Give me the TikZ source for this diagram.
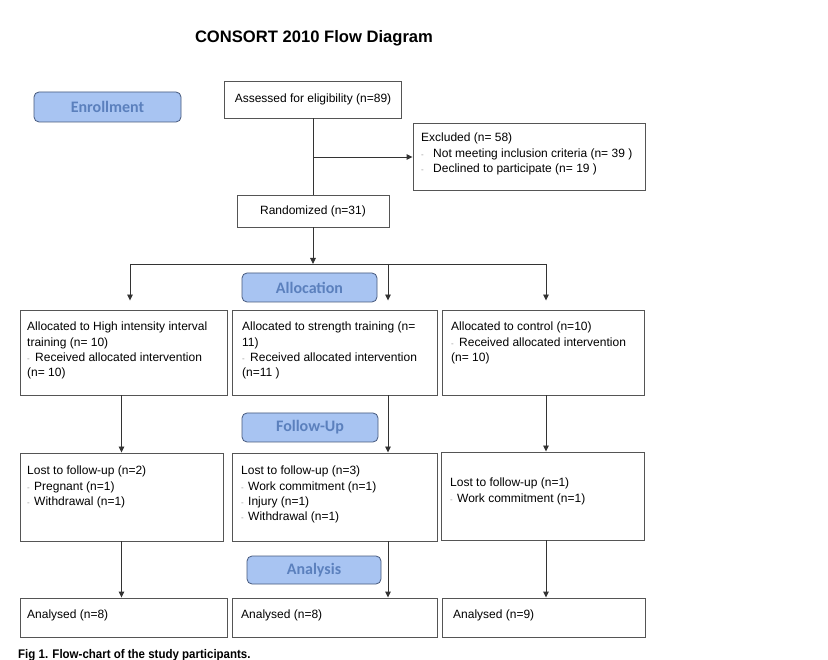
\documentclass[tikz,border=0pt]{standalone}
\usepackage{fontspec}
\setmainfont{Liberation Sans}
\newfontfamily\phasefont{Carlito}
\usetikzlibrary{arrows.meta}
\definecolor{lblfill}{HTML}{A8C4F2}
\definecolor{lbltext}{HTML}{5B80BD}
\definecolor{lbldraw}{HTML}{46597D}
\definecolor{linec}{HTML}{333333}
\definecolor{boxc}{HTML}{555555}
\newcommand{\dsh}[1]{\makebox[#1][l]{\textcolor{gray!80}{\fontsize{8}{8}\selectfont -}}}
\begin{document}
\begin{tikzpicture}[x=1pt,y=-1pt,
  box/.style={draw=boxc, line width=0.9pt, inner sep=0pt},
  txt/.style={anchor=north west, inner sep=0pt, align=left, font=\fontsize{12}{15.2}\selectfont},
  ctxt/.style={inner sep=0pt, align=center, font=\fontsize{12}{15.2}\selectfont},
  phase/.style={draw=lbldraw, fill=lblfill, rounded corners=5pt, line width=0.8pt, inner sep=0pt,
    font=\phasefont\bfseries\fontsize{16}{18}\selectfont, text=lbltext},
  conn/.style={draw=linec, line width=0.9pt},
  arr/.style={conn, -{Triangle[length=6pt,width=5.5pt]}}]
\fill[white] (0,0) rectangle (828,660);
\useasboundingbox (0,0) rectangle (828,660);

% title
\node[font=\bfseries\fontsize{16.6}{19}\selectfont] (title) at (314,38) {CONSORT 2010 Flow Diagram};

% phase labels
\node[phase, minimum width=147pt, minimum height=30pt] (enroll) at (107.5,107) {Enrollment};
\node[phase, minimum width=135pt, minimum height=29pt] (alloc) at (309.5,287.5) {Allocation};
\node[phase, minimum width=136pt, minimum height=29pt] (follow) at (310,427.5) {Follow-Up};
\node[phase, minimum width=134pt, minimum height=28pt] (analysis) at (314,570) {Analysis};

% boxes
\node[box, minimum width=177pt, minimum height=37pt] (assess) at (313,99.5) {};
\node[box, minimum width=232pt, minimum height=67pt] (excl) at (529,156.5) {};
\node[box, minimum width=152pt, minimum height=32pt] (rand) at (313,211) {};
\node[box, minimum width=207pt, minimum height=85pt] (allocA) at (123.5,352.5) {};
\node[box, minimum width=205pt, minimum height=85pt] (allocB) at (334.5,352.5) {};
\node[box, minimum width=202pt, minimum height=85pt] (allocC) at (543,352.5) {};
\node[box, minimum width=203pt, minimum height=88pt] (lostA) at (121.5,497) {};
\node[box, minimum width=205pt, minimum height=88pt] (lostB) at (334.5,497) {};
\node[box, minimum width=203pt, minimum height=88pt] (lostC) at (542.5,496) {};
\node[box, minimum width=207pt, minimum height=39pt] (anaA) at (123.5,617.5) {};
\node[box, minimum width=205pt, minimum height=39pt] (anaB) at (334.5,617.5) {};
\node[box, minimum width=203pt, minimum height=39pt] (anaC) at (543.5,617.5) {};

% texts
\node[ctxt] (tassess) at (assess) {Assessed for eligibility (n=89)};
\node[ctxt] (trand) at (rand) {Randomized (n=31)};
\node[txt] (texcl) at (421,133) {Excluded (n= 58)\\\dsh{12pt}Not meeting inclusion criteria (n= 39 )\\\dsh{12pt}Declined to participate (n= 19 )};
\node[txt] (tallocA) at (27,322) {Allocated to High intensity interval\\training (n= 10)\\\dsh{8pt}Received allocated intervention\\(n= 10)};
\node[txt] (tallocB) at (242,322) {Allocated to strength training (n=\\11)\\\dsh{8pt}Received allocated intervention\\(n=11 )};
\node[txt] (tallocC) at (451,322) {Allocated to control (n=10)\\\dsh{8pt}Received allocated intervention\\(n= 10)};
\node[txt] (tlostA) at (27,466) {Lost to follow-up (n=2)\\\dsh{7pt}Pregnant (n=1)\\\dsh{7pt}Withdrawal (n=1)};
\node[txt] (tlostB) at (241,466) {Lost to follow-up (n=3)\\\dsh{7pt}Work commitment (n=1)\\\dsh{7pt}Injury (n=1)\\\dsh{7pt}Withdrawal (n=1)};
\node[txt] (tlostC) at (450,478) {Lost to follow-up (n=1)\\\dsh{7pt}Work commitment (n=1)};
\node[txt] (tanaA) at (27,610) {Analysed (n=8)};
\node[txt] (tanaB) at (241,610) {Analysed (n=8)};
\node[txt] (tanaC) at (453,610) {Analysed (n=9)};

% caption
\node[anchor=west, inner sep=0pt, font=\bfseries\fontsize{12.5}{14}\selectfont] (caption) at (18,655)
  {\scalebox{0.92}[1]{Fig 1. Flow-chart of the study participants.}};

% connectors
\coordinate (j1) at (313,157);
\coordinate (split) at (313,264);
\coordinate (sl) at (130,264);
\coordinate (sm) at (388,264);
\coordinate (sr) at (546,264);
\draw[conn] (assess.south) -- (rand.north);
\draw[arr] (j1) -- (excl.west |- j1);
\draw[arr] (rand.south) -- (split);
\draw[conn] (sl) -- (sr);
\draw[arr, shorten >=9pt] (sl) -- (sl |- allocA.north);
\draw[arr, shorten >=9pt] (sm) -- (sm |- allocB.north);
\draw[arr, shorten >=9pt] (sr) -- (sr |- allocC.north);
\draw[arr] (lostA.north |- allocA.south) -- (lostA.north);
\draw[arr] (sm |- allocB.south) -- (sm |- lostB.north);
\draw[arr] (sr |- allocC.south) -- (sr |- lostC.north);
\draw[arr] (lostA.south) -- (lostA.south |- anaA.north);
\draw[arr] (sm |- lostB.south) -- (sm |- anaB.north);
\draw[arr] (sr |- lostC.south) -- (sr |- anaC.north);
\end{tikzpicture}
\end{document}
